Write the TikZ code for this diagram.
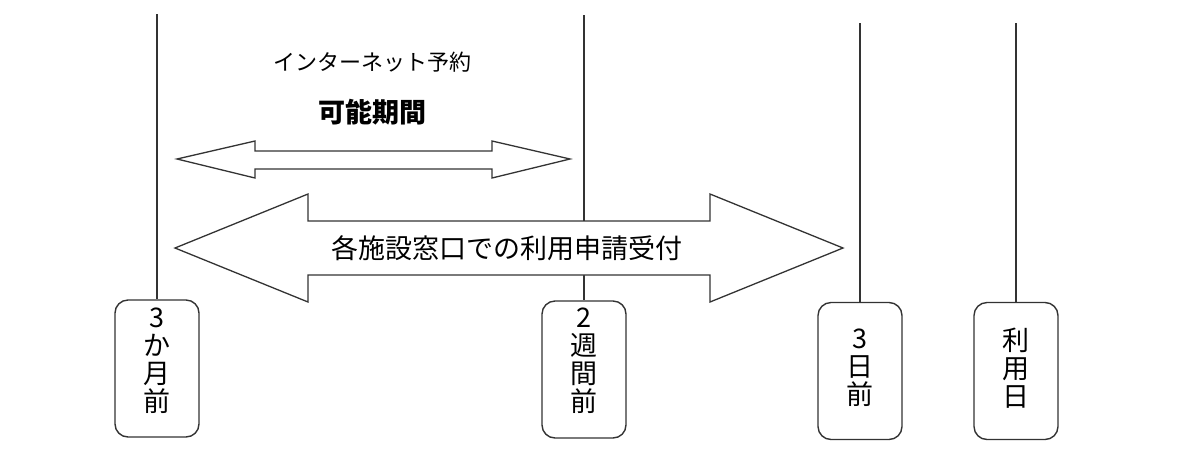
\documentclass[tikz,border=0pt]{standalone}
\usepackage{fontspec}
\newfontfamily\jp{Noto Sans CJK JP}
\begin{document}
\begin{tikzpicture}[x=1pt,y=-1pt,
  lineclr/.style={draw=black!80, line width=1.4pt},
  datebox/.style={lineclr, rounded corners=13pt, minimum width=84pt, minimum height=137pt, inner sep=0pt, fill=white},
  boxtxt/.style={font=\jp\fontsize{27}{28}\selectfont, align=center, inner sep=0pt},
  arrowshape/.style={draw=black!80, line width=1.3pt, fill=white, line join=miter},
  lbl/.style={font=\jp\fontsize{22}{24}\selectfont, inner sep=0pt}
]
\useasboundingbox (0,0) rectangle (1201,451);
% boxes
\node[datebox] (b1) at (157,368.5) {};
\node[datebox] (b2) at (584,369.5) {};
\node[datebox] (b3) at (860,371) {};
\node[datebox] (b4) at (1016,371) {};
% vertical lines
\coordinate (t1) at (157,14);
\coordinate (t2) at (584,15);
\coordinate (t3) at (860,23);
\coordinate (t4) at (1016,23);
\draw[lineclr] (t1) -- (b1.north);
\draw[lineclr] (t2) -- (b2.north);
\draw[lineclr] (t3) -- (b3.north);
\draw[lineclr] (t4) -- (b4.north);
% box texts
\node[boxtxt] (l1) at (157,361) {3\\か\\月\\前};
\node[boxtxt] (l2) at (584,361) {2\\週\\間\\前};
\node[boxtxt] (l3) at (860,368) {3\\日\\前};
\node[boxtxt] (l4) at (1016,368) {利\\用\\日};
% small double arrow
\draw[arrowshape] (177,159) -- (255,141) -- (255,151) -- (492,151) -- (492,141) -- (570,159)
  -- (492,178) -- (492,169) -- (255,169) -- (255,178) -- cycle;
% big double arrow
\draw[arrowshape] (175,248) -- (308,194) -- (308,221) -- (710,221) -- (710,194) -- (843,248)
  -- (710,302) -- (710,275) -- (308,275) -- (308,302) -- cycle;
% labels
\node[lbl] (net) at (372,62) {インターネット予約};
\node[lbl, font=\jp\bfseries\fontsize{27}{28}\selectfont] (kikan) at (372,112) {可能期間};
\node[boxtxt] (mado) at (507,248) {各施設窓口での利用申請受付};
\end{tikzpicture}
\end{document}
